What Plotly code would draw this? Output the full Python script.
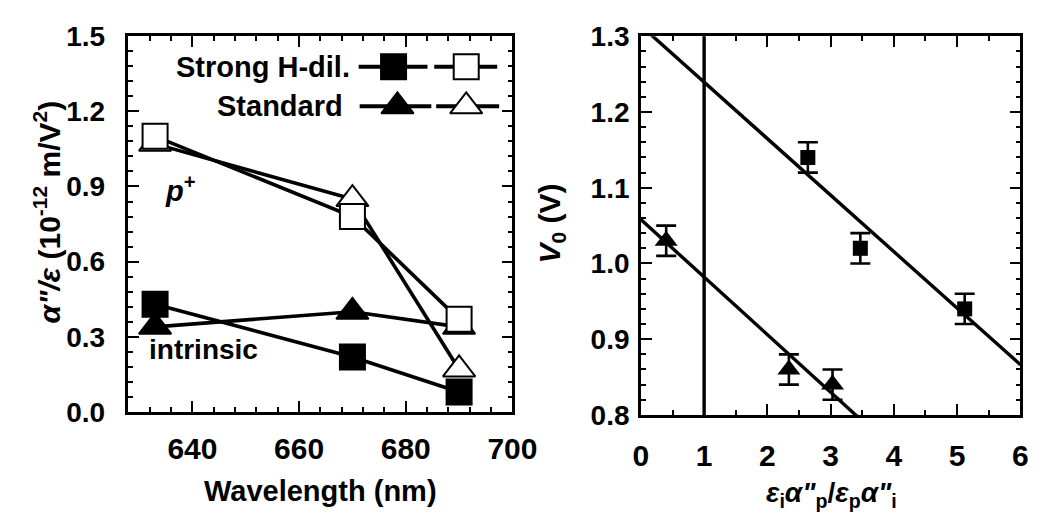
import plotly.graph_objects as go

# ---- left panel: absorption ratio vs wavelength ----
wavelength = [633, 670, 690]
strong_intrinsic = [0.43, 0.22, 0.08]   # Strong H-dil., filled squares
strong_p = [1.10, 0.78, 0.37]           # Strong H-dil., open squares
std_intrinsic = [0.34, 0.40, 0.34]      # Standard, filled triangles
std_p = [1.07, 0.85, 0.17]              # Standard, open triangles

# ---- right panel: V0 vs ratio ----
ratio_strong = [2.64, 3.47, 5.12]
v0_strong = [1.14, 1.02, 0.94]
err_strong = [0.02, 0.02, 0.02]
ratio_std = [0.40, 2.34, 3.03]
v0_std = [1.03, 0.86, 0.84]
err_std = [0.02, 0.02, 0.02]
fit_intercepts = [1.314, 1.058]
fit_slopes = [-0.0746, -0.076]
fit_x = [0, 6]
unity_ratio = 1

W, H = 1056, 525
FONT = "Liberation Sans, Arial, sans-serif"
BLACK = "black"


def px(x):
    return x / W


def py(y):
    return 1 - y / H


fig = go.Figure()

# left panel lines first, markers on top
left_series = [
    (strong_p, "square", "white"),
    (std_p, "triangle-up", "white"),
    (std_intrinsic, "triangle-up", BLACK),
    (strong_intrinsic, "square", BLACK),
]
for vals, sym, fill in left_series:
    fig.add_trace(go.Scatter(x=wavelength, y=vals, mode="lines",
                             line=dict(color=BLACK, width=3.6),
                             xaxis="x", yaxis="y", showlegend=False, hoverinfo="skip"))
for vals, sym, fill in [left_series[2], left_series[3], left_series[1], left_series[0]]:
    size = 25 if sym == "square" else 28
    fig.add_trace(go.Scatter(x=wavelength, y=vals, mode="markers",
                             marker=dict(symbol=sym, size=size, color=fill,
                                         line=dict(color=BLACK, width=2)),
                             xaxis="x", yaxis="y", showlegend=False, cliponaxis=False))

# right panel fits and reference line
for b, m in zip(fit_intercepts, fit_slopes):
    fig.add_trace(go.Scatter(x=fit_x, y=[b + m * x for x in fit_x], mode="lines",
                             line=dict(color=BLACK, width=3.4),
                             xaxis="x2", yaxis="y2", showlegend=False, hoverinfo="skip"))
fig.add_trace(go.Scatter(x=[unity_ratio, unity_ratio], y=[0.8, 1.3], mode="lines",
                         line=dict(color=BLACK, width=3.4),
                         xaxis="x2", yaxis="y2", showlegend=False, hoverinfo="skip"))
fig.add_trace(go.Scatter(x=ratio_strong, y=v0_strong, mode="markers",
                         marker=dict(symbol="square", size=15, color=BLACK),
                         error_y=dict(type="data", array=err_strong, color=BLACK,
                                      thickness=2.6, width=10),
                         xaxis="x2", yaxis="y2", showlegend=False))
fig.add_trace(go.Scatter(x=ratio_std, y=v0_std, mode="markers",
                         marker=dict(symbol="triangle-up", size=20, color=BLACK),
                         error_y=dict(type="data", array=err_std, color=BLACK,
                                      thickness=2.6, width=10),
                         xaxis="x2", yaxis="y2", showlegend=False))

# key samples drawn on a pixel-space overlay
key_rows = [
    (55, [(362, 433, 398, "square", BLACK), (440, 505, 473, "square", "white")]),
    (97, [(363, 437, 402, "triangle-up", BLACK), (442, 507, 473, "triangle-up", "white")]),
]
for yrow, samples in key_rows:
    for x0, x1, xm, sym, fill in samples:
        fig.add_trace(go.Scatter(x=[x0, x1], y=[yrow, yrow], mode="lines",
                                 line=dict(color=BLACK, width=4),
                                 xaxis="x3", yaxis="y3", showlegend=False, hoverinfo="skip"))
        size = 25 if sym == "square" else 28
        fig.add_trace(go.Scatter(x=[xm], y=[yrow], mode="markers",
                                 marker=dict(symbol=sym, size=size, color=fill,
                                             line=dict(color=BLACK, width=2)),
                                 xaxis="x3", yaxis="y3", showlegend=False, cliponaxis=False))

axis_common = dict(showgrid=False, zeroline=False, showline=True, linecolor=BLACK,
                   linewidth=2.5, mirror="allticks", ticks="inside", ticklen=11,
                   tickwidth=2, tickcolor=BLACK)
tickx = dict(family=FONT, size=30, color=BLACK, weight="bold")
ticky = dict(family=FONT, size=28, color=BLACK, weight="bold")

fig.update_layout(
    width=W, height=H,
    margin=dict(l=0, r=0, t=0, b=0),
    paper_bgcolor="white", plot_bgcolor="rgba(0,0,0,0)",
    xaxis=dict(domain=[px(124.3), px(520.7)], range=[628, 700], anchor="y",
               tickmode="linear", tick0=640, dtick=20, tickfont=tickx, ticklabelstandoff=8,
               minor=dict(tick0=640, dtick=4, ticks="inside", ticklen=5, tickwidth=1.5,
                          tickcolor=BLACK),
               **axis_common),
    yaxis=dict(domain=[py(422), py(22.4)], range=[0, 1.5], anchor="x",
               tickmode="linear", tick0=0, dtick=0.3, tickformat=".1f", tickfont=ticky,
               ticklabelstandoff=15,
               minor=dict(tick0=0, dtick=0.06, ticks="inside", ticklen=5, tickwidth=1.5,
                          tickcolor=BLACK),
               **axis_common),
    xaxis2=dict(domain=[px(653.3), px(1045)], range=[0, 6], anchor="y2",
                tickmode="linear", tick0=0, dtick=1, tickfont=tickx, ticklabelstandoff=12,
                minor=dict(tick0=0, dtick=0.5, ticks="inside", ticklen=5, tickwidth=1.5,
                           tickcolor=BLACK),
                **axis_common),
    yaxis2=dict(domain=[py(425), py(22.6)], range=[0.8, 1.3], anchor="x2",
                tickmode="linear", tick0=0.8, dtick=0.1, tickformat=".1f", tickfont=ticky,
                ticklabelstandoff=3,
                minor=dict(tick0=0.8, dtick=0.02, ticks="inside", ticklen=5, tickwidth=1.5,
                           tickcolor=BLACK),
                **axis_common),
    xaxis3=dict(domain=[0, 1], range=[0, W], visible=False, anchor="y3", fixedrange=True),
    yaxis3=dict(domain=[0, 1], range=[H, 0], visible=False, anchor="x3", fixedrange=True),
)


def label(text, x, y, size, angle=0, xanchor="center"):
    fig.add_annotation(text=text, x=px(x), y=py(y), xref="paper", yref="paper",
                       showarrow=False, textangle=angle, xanchor=xanchor, yanchor="middle",
                       font=dict(family=FONT, size=size, color=BLACK, weight="bold"))


label("Wavelength (nm)", 323, 506, 29)
label("<i>α\"/ε</i> (10<sup>-12</sup> m/V<sup>2</sup>)", 40, 209, 30, angle=-90)
label("<i>V</i><sub>0</sub> (V)", 561, 221, 30, angle=-90)
label("<i>ε</i><sub>i</sub><i>α\"</i><sub>p</sub>/<i>ε</i><sub>p</sub><i>α\"</i><sub>i</sub>",
      850, 510, 28)
label("Strong H-dil.", 355, 55, 29, xanchor="right")
label("Standard", 348, 97, 29, xanchor="right")
label("<i>p</i><sup>+</sup>", 178, 185, 29)
label("intrinsic", 202, 356, 28)

fig.write_html("out.html")
